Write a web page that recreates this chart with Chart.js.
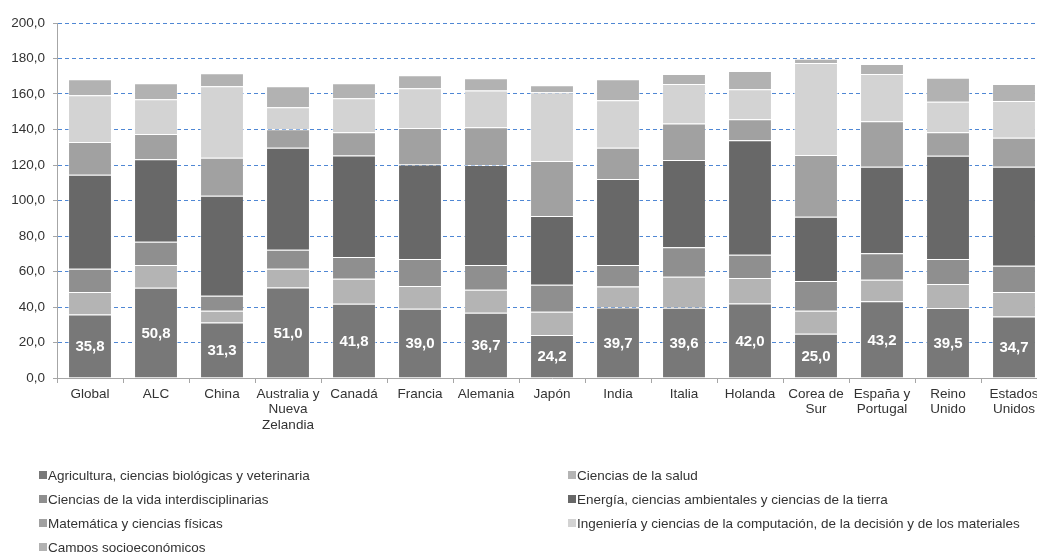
<!DOCTYPE html>
<html>
<head>
<meta charset="utf-8">
<script src="https://cdn.jsdelivr.net/npm/chart.js@4"></script>
<style>
  html, body { margin: 0; padding: 0; background: #fff; overflow: hidden; }
  #wrap { position: relative; width: 1060px; height: 552px; }
</style>
</head>
<body>
<div id="wrap"><canvas id="myChart"></canvas></div>
<script>
const categories = [
    'Global', 'ALC', 'China', ['Australia y', 'Nueva', 'Zelandia'], 'Canadá',
    'Francia', 'Alemania', 'Japón', 'India', 'Italia', 'Holanda',
    ['Corea de', 'Sur'], ['España y', 'Portugal'], ['Reino', 'Unido'], ['Estados', 'Unidos'],
];

const agricultura = [35.8, 50.8, 31.3, 51.0, 41.8, 39.0, 36.7, 24.2, 39.7, 39.6, 42.0, 25.0, 43.2, 39.5, 34.7];
const salud       = [12.6, 12.9, 6.6, 10.5, 14.1, 12.9, 13.0, 13.1, 11.8, 17.4, 14.4, 12.9, 12.1, 13.5, 13.8];
const vida        = [13.1, 13.0, 8.4, 10.7, 12.3, 15.2, 14.0, 15.2, 12.2, 16.7, 13.0, 16.8, 15.0, 14.1, 14.7];
const energia     = [53.0, 46.6, 56.4, 57.5, 57.2, 53.2, 56.3, 38.8, 48.4, 49.1, 64.6, 36.2, 48.7, 58.1, 55.8];
const matematica  = [18.4, 14.1, 21.4, 10.5, 13.1, 20.5, 21.3, 30.9, 17.6, 20.6, 11.8, 34.7, 25.7, 13.3, 16.3];
const ingenieria  = [26.4, 19.7, 40.3, 12.4, 19.1, 22.5, 20.7, 38.8, 26.8, 22.3, 16.9, 51.9, 26.6, 17.1, 20.7];
const socio       = [9.0, 9.0, 7.3, 11.8, 8.5, 7.3, 6.9, 3.9, 11.8, 5.6, 10.3, 2.3, 5.6, 13.5, 9.7];

const yTicks = [0, 20, 40, 60, 80, 100, 120, 140, 160, 180, 200];

const FONT = "'Liberation Sans', Arial, sans-serif";
const fmt = (v) => v.toFixed(1).replace('.', ',');

function series(label, data, color) {
    return {
        label,
        data,
        backgroundColor: color,
        borderColor: 'rgba(255, 255, 255, 0.55)',
        borderWidth: 1,
        barPercentage: 0.665,
        categoryPercentage: 1,
    };
}

const data = {
    labels: categories,
    datasets: [
        series('Agricultura, ciencias biológicas y veterinaria', agricultura, '#787878'),
        series('Ciencias de la salud', salud, '#b4b4b4'),
        series('Ciencias de la vida interdisciplinarias', vida, '#8f8f8f'),
        series('Energía, ciencias ambientales y ciencias de la tierra', energia, '#686868'),
        series('Matemática y ciencias físicas', matematica, '#a1a1a1'),
        series('Ingeniería y ciencias de la computación, de la decisión y de los materiales', ingenieria, '#d3d3d3'),
        series('Campos socioeconómicos', socio, '#b2b2b2'),
    ],
};

// white value labels centred in the bottom segment
const bottomLabels = {
    id: 'bottomLabels',
    afterDatasetsDraw(chart) {
        const ctx = chart.ctx;
        const meta = chart.getDatasetMeta(0);
        ctx.save();
        ctx.font = 'bold 15px ' + FONT;
        ctx.fillStyle = '#ffffff';
        ctx.textAlign = 'center';
        ctx.textBaseline = 'middle';
        meta.data.forEach((bar, i) => {
            ctx.fillText(fmt(chart.data.datasets[0].data[i]), bar.x, (bar.y + bar.base) / 2 + 1);
        });
        ctx.restore();
    },
};

// two-column legend under the axis
const legendGrid = {
    id: 'legendGrid',
    afterDraw(chart) {
        const ctx = chart.ctx;
        ctx.save();
        ctx.font = '13.5px ' + FONT;
        ctx.textBaseline = 'middle';
        chart.data.datasets.forEach((ds, i) => {
            const x = i % 2 ? 568 : 39;
            const y = 475 + Math.floor(i / 2) * 24;
            ctx.fillStyle = ds.backgroundColor;
            ctx.fillRect(x, y - 4, 8, 8);
            ctx.fillStyle = '#333333';
            ctx.fillText(ds.label, x + 9, y + 1);
        });
        ctx.restore();
    },
};

const config = {
    type: 'bar',
    data: data,
    options: {
        responsive: true,
        maintainAspectRatio: false,
        animation: false,
        layout: { padding: { top: 23, right: 13, bottom: 114, left: 0 } },
        plugins: {
            legend: { display: false },
            tooltip: { enabled: false },
        },
        scales: {
            x: {
                stacked: true,
                afterFit: (scale) => { scale.height = 60; },
                grid: {
                    drawOnChartArea: false,
                    drawTicks: true,
                    tickLength: 5,
                    color: '#a6a6a6',
                    offset: true,
                },
                border: { display: true, color: '#a6a6a6', width: 1 },
                ticks: {
                    color: '#333333',
                    font: { family: FONT, size: 13.5, lineHeight: 1.17 },
                    padding: 3,
                    maxRotation: 0,
                    autoSkip: false,
                },
            },
            y: {
                stacked: true,
                min: yTicks[0],
                max: yTicks[yTicks.length - 1],
                afterFit: (scale) => { scale.width = 57; },
                afterBuildTicks: (scale) => { scale.ticks = yTicks.map((v) => ({ value: v })); },
                grid: {
                    color: '#4f87d4',
                    tickColor: '#a6a6a6',
                    tickLength: 4,
                },
                border: { display: true, color: '#a6a6a6', width: 1, dash: [4, 3] },
                ticks: {
                    color: '#333333',
                    font: { family: FONT, size: 13.5 },
                    padding: 8,
                    callback: function (value) {
                        return fmt(value);
                    },
                },
            },
        },
    },
    plugins: [bottomLabels, legendGrid],
};

const myChart = new Chart(document.querySelector('#myChart').getContext('2d'), config);
</script>
</body>
</html>
